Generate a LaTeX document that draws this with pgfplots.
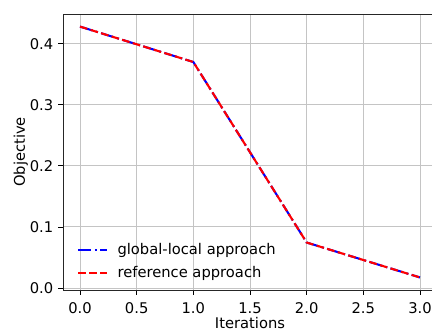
\documentclass[border=0pt]{standalone}
\usepackage{pgfplots}
\pgfplotsset{compat=1.18}
\usepackage{fontspec}
\setmainfont{DejaVu Sans}
\definecolor{gridgray}{HTML}{C4C4C4}
\begin{document}
\begin{tikzpicture}
\begin{axis}[
  at={(45.36pt,30.96pt)}, anchor=south west,
  width=269.28pt, height=198.72pt, scale only axis,
  xmin=-0.15, xmax=3.15, ymin=-0.0032, ymax=0.4486,
  xtick={0,0.5,1,1.5,2,2.5,3},
  ytick={0,0.1,0.2,0.3,0.4},
  /pgf/number format/assume math mode=true,
  /pgf/number format/.cd, fixed, fixed zerofill, precision=1, /pgfplots/.cd,
  xticklabel style={/pgf/number format/precision=1, yshift=-2pt},
  yticklabel style={/pgf/number format/precision=1},
  tick align=outside, major tick length=3.5pt,
  tick style={black, line width=0.6pt},
  xtick pos=bottom, ytick pos=left,
  grid=major,
  major grid style={gridgray, line width=0.7pt},
  axis line style={black!85, line width=0.6pt},
  tick label style={font=\fontsize{10.6}{12.7}\selectfont},
  label style={font=\fontsize{10.6}{12.7}\selectfont},
  xlabel={Iterations}, ylabel={Objective},
  xlabel style={yshift=4pt},
  ylabel style={yshift=-5.5pt},
  legend style={at={(0.037,0.028)}, anchor=south west, draw=none, fill=none,
    inner xsep=0pt, inner ysep=0pt, row sep=2.6pt,
    font=\fontsize{10.6}{12.7}\selectfont},
  legend cell align=left,
  legend image code/.code={\draw[#1] (0cm,0cm) -- (0.74cm,0cm); \path (0.9cm,0cm);},
]
\addplot[blue, line width=1.5pt, dash pattern=on 9.6pt off 2.4pt on 1.5pt off 2.4pt] coordinates {
  (0,0.428) (1,0.370) (2,0.0745) (3,0.0173)
};
\addlegendentry{global-local approach}
\addplot[red, line width=1.5pt, dash pattern=on 5.55pt off 2.4pt] coordinates {
  (0,0.428) (1,0.370) (2,0.0745) (3,0.0173)
};
\addlegendentry{reference approach}
\end{axis}
\pgfresetboundingbox
\useasboundingbox (0,0) rectangle (311.04pt,239.76pt);
\end{tikzpicture}
\end{document}
